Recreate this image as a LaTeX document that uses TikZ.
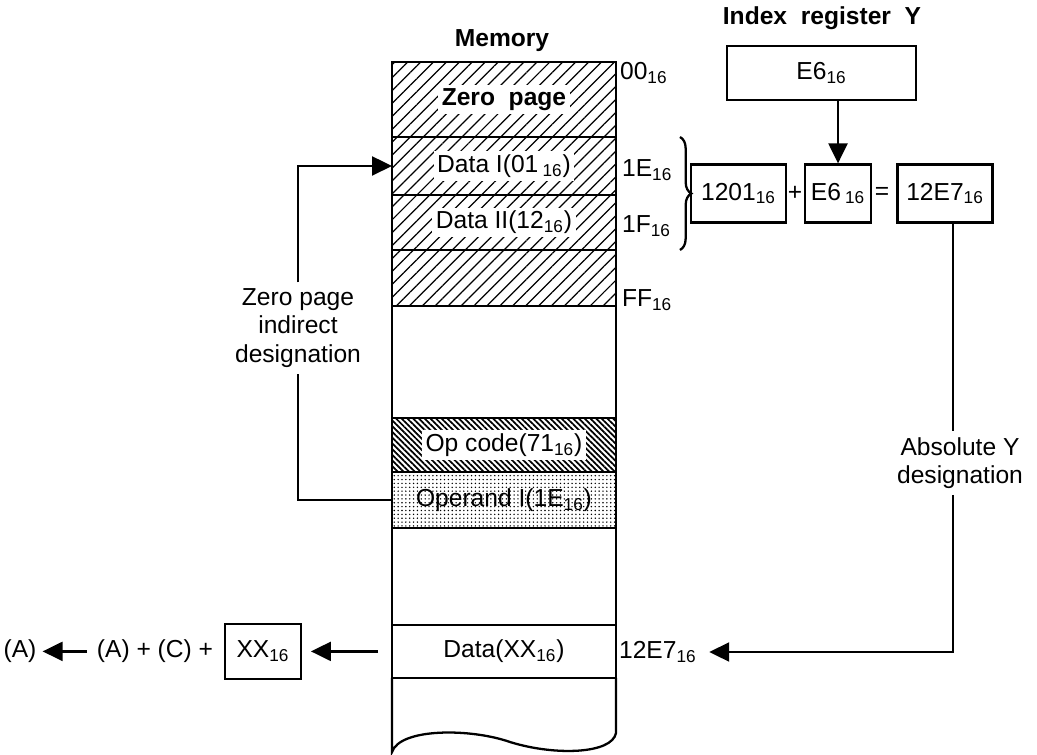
\documentclass[tikz,border=0pt]{standalone}
\usepackage{fontspec}
\setmainfont{Liberation Sans}
\usetikzlibrary{positioning,arrows.meta,patterns.meta,calc,decorations.pathreplacing}

\newcommand{\basefont}{\fontsize{14}{16.2}\selectfont}
\newcommand{\hx}[1]{#1\textsubscript{16}}

\begin{document}
\begin{tikzpicture}[
  x=0.02cm, y=-0.02cm,
  font=\basefont,
  cell/.style={draw, line width=1.3pt, minimum width=4.48cm, inner sep=0pt, outer sep=0pt},
  hatched/.style={pattern={Lines[angle=45,distance=5.2pt,line width=0.7pt]}},
  densehatch/.style={pattern={Lines[angle=-45,distance=2.3pt,line width=1pt]}},
  dotfill/.style={pattern={Dots[distance=2.2pt,radius=0.45pt]}},
  tag/.style={fill=white, inner sep=2pt},
  addr/.style={anchor=west, inner sep=1pt},
  regbox/.style={draw, line width=1.3pt, minimum height=1.16cm, inner sep=2pt},
  wire/.style={line width=1.3pt},
  arr/.style={-{Triangle[length=4mm,width=3.8mm]}, line width=1.3pt},
]
  \useasboundingbox (0,0) rectangle (1037,754);

  % Memory map
  \node[font=\basefont\bfseries] (memt) at (502,41) {Memory};
  \node[cell, hatched, minimum height=1.5cm, anchor=north west] (zp) at (392,62) {};
  \node[cell, hatched, minimum height=1.16cm, below=0pt of zp] (d1) {};
  \node[cell, hatched, minimum height=1.1cm, below=0pt of d1] (d2) {};
  \node[cell, hatched, minimum height=1.12cm, below=0pt of d2] (zrest) {};
  \node[cell, minimum height=2.24cm, below=0pt of zrest] (free1) {};
  \node[cell, densehatch, minimum height=1.08cm, below=0pt of free1] (op) {};
  \node[cell, dotfill, minimum height=1.12cm, below=0pt of op] (opd) {};
  \node[cell, minimum height=1.94cm, below=0pt of opd] (free2) {};
  \node[cell, minimum height=1.06cm, below=0pt of free2] (dxx) {};
  \draw[wire] (dxx.south west) -- (392,752)
    .. controls (400,728) and (470,728) .. (510,742)
    .. controls (555,756) and (612,754) .. (616,733) -- (dxx.south east);

  % Cell contents
  \node[tag, font=\basefont\bfseries] at (zp) {Zero\ \ page};
  \node[tag] at (d1) {Data I(\hx{01\,})};
  \node[tag] at (d2) {Data II(\hx{12})};
  \node[tag] at (op) {Op code(\hx{71})};
  \node at (opd) {Operand I(\hx{1E})};
  \node at (dxx) {Data(\hx{XX})};

  % Addresses
  \node[addr] (a00) at (618,73) {\hx{00}};
  \node[addr] (a1e) at (620,170) {\hx{1E}};
  \node[addr] (a1f) at (620,226) {\hx{1F}};
  \node[addr] (aff) at (620,300) {\hx{FF}};
  \node[addr] (a12e7) at (617,652) {\hx{12E7}};
  \draw[wire, decorate, decoration={brace, amplitude=6.5pt}]
    ($(d1.north east)+(64,0)$) -- ($(d2.south east)+(64,0)$);

  % Index register and address calculation
  \node[font=\basefont\bfseries] (iyt) at (822,18) {Index\ \ register\ \ Y};
  \node[regbox, minimum width=3.78cm, minimum height=1.08cm] (ireg) at (821.5,73) {\hx{E6}};
  \node[regbox, minimum width=1.9cm] (b1201) at (738.5,193.5) {\hx{1201}};
  \node (plus) at (795,193) {+};
  \node[regbox, minimum width=1.32cm] (be6) at (838,193.5) {\hx{E6\,}};
  \node (eq) at (882,193) {=};
  \node[regbox, minimum width=1.9cm] (b12e7) at (945,193.5) {\hx{12E7}};
  \draw[arr] (ireg.south -| be6) -- (be6.north);

  % Absolute Y designation
  \node[align=center] (absy) at (960,463) {Absolute Y\\designation};
  \coordinate (drop) at ($(b12e7.south)+(8,0)$);
  \draw[wire] (drop) -- (drop |- absy.north);
  \draw[arr, shorten >=6pt] (drop |- absy.south) |- (a12e7.east);

  % Zero page indirect designation
  \node[align=center] (zpind) at (298,328) {Zero page\\indirect\\designation};
  \draw[wire] (opd.west) -| (zpind.south);
  \draw[arr] (zpind.north) |- (d1.west);

  % Result
  \coordinate (rdout) at ($(dxx.west)+(-14,0)$);
  \node[regbox, minimum width=1.52cm, minimum height=1.1cm] (bxx) at (263,0 |- dxx) {\hx{XX}};
  \node (acsum) at (155,0 |- dxx) {(A) + (C) +};
  \node (aout) at (20,0 |- dxx) {(A)};
  \draw[arr, shorten >=5pt] (rdout) -- (bxx.east);
  \draw[arr, shorten <=2pt] (acsum.west) -- (aout.east);
\end{tikzpicture}
\end{document}
